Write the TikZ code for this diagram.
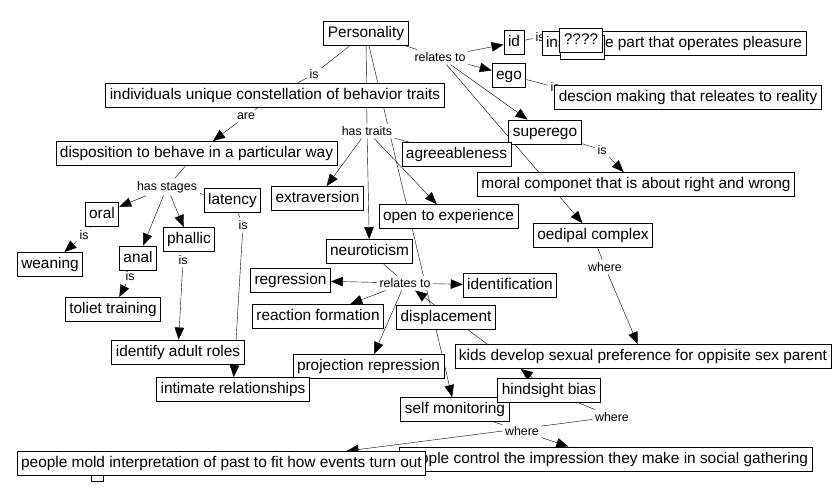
\documentclass[tikz,border=0pt]{standalone}
\usepackage{fontspec}
\setmainfont{Liberation Sans}
\usetikzlibrary{arrows.meta,backgrounds}

\begin{document}
\begin{tikzpicture}[x=1pt,y=-1pt,line width=0.9pt,>={Triangle[length=12pt,width=9.5pt]},
	concept/.style={draw,fill=white,minimum height=24pt,inner xsep=4pt,inner ysep=0pt,text height=11pt,text depth=3pt,font=\fontsize{15.4}{18}\selectfont},
	phrase/.style={fill=white,inner sep=2.5pt,font=\fontsize{12.4}{14}\selectfont}]
	\useasboundingbox (0,0) rectangle (832,501);

	%linking phrases
	\node[phrase] (is1) at (314,74) {is};
	\node[phrase] (are) at (246,116) {are};
	\node[phrase] (hastraits) at (367,131) {has traits};
	\node[phrase] (rel1) at (440,57) {relates to};
	\node[phrase] (isid) at (540,37) {is};
	\node[phrase] (isego) at (555,87) {is};
	\node[phrase] (issup) at (602,150) {is};
	\node[phrase] (where1) at (605,267) {where};
	\node[phrase] (hasstages) at (167,187) {has stages};
	\node[phrase] (isoral) at (84,235) {is};
	\node[phrase] (isanal) at (130,276) {is};
	\node[phrase] (isphal) at (183,260) {is};
	\node[phrase] (islat) at (243,225) {is};
	\node[phrase] (rel2) at (405,283) {relates to};
	\node[phrase] (where2) at (612,417) {where};
	\node[phrase] (where3) at (522,431) {where};

	%top concepts
	\node[concept] (pers) at (366,33) {Personality};
	\node[concept] (id) at (514,42.5) {id};
	\node[concept] (inst) at (674,43) {instinctive part that operates pleasure};
	\node[concept,minimum width=44pt] (qback) at (582.5,47) {};
	\node[concept] (qmark) at (581,40) {????};
	\node[concept] (ego) at (509,75) {ego};
	\node[concept] (desc) at (688,97.5) {descion making that releates to reality};
	\node[concept] (indiv) at (275,95.5) {individuals unique constellation of behavior traits};
	\node[concept] (disp) at (196.5,153.5) {disposition to behave in a particular way};
	\node[concept] (sup) at (545,132) {superego};
	\node[concept] (moral) at (636,184.5) {moral componet that is about right and wrong};
	\node[concept] (oedip) at (593,235.5) {oedipal complex};
	\node[concept] (kids) at (643,356.5) {kids develop sexual preference for oppisite sex parent};

	%traits
	\node[concept] (agree) at (456.5,154.5) {agreeableness};
	\node[concept] (extra) at (317.5,198.5) {extraversion};
	\node[concept] (open) at (448.5,216.5) {open to experience};
	\node[concept] (neuro) at (369.5,251.5) {neuroticism};
	\node[concept] (regr) at (290.5,280.5) {regression};
	\node[concept] (identif) at (510,285.5) {identification};
	\node[concept] (react) at (318,316.5) {reaction formation};
	\node[concept] (displ) at (446,317.5) {displacement};
	\node[concept] (proj) at (368.5,366.5) {projection repression};

	%stages
	\node[concept] (lat) at (232.5,200) {latency};
	\node[concept] (oral) at (102,214) {oral};
	\node[concept] (wean) at (50,264.5) {weaning};
	\node[concept] (anal) at (138,258) {anal};
	\node[concept] (phal) at (189,239.5) {phallic};
	\node[concept] (toilet) at (113,309.5) {toliet training};
	\node[concept] (roles) at (178,352) {identify adult roles};
	\node[concept] (intim) at (233,389.5) {intimate relationships};

	%bottom
	\node[concept] (selfmon) at (455,409.5) {self monitoring};
	\node[concept] (hind) at (549,390) {hindsight bias};
	\node[concept] (control) at (605.5,459) {people control the impression they make in social gathering};
	\node[draw,fill=white,minimum width=12pt,minimum height=10pt,inner sep=0pt] (moldstub) at (97,476) {};
	\node[concept] (mold) at (221.5,463.5) {people mold interpretation of past to fit how events turn out};

	\begin{pgfonlayer}{background}
	%Personality
	\draw (pers) -- (is1) -- (indiv);
	\draw (indiv) -- (are);
	\draw[->] (are) -- (disp);
	\draw (pers) -- (hastraits);
	\draw (pers) -- (rel1);
	\draw[->] (pers) -- (selfmon);

	%relates to
	\draw[->] (rel1) -- (id);
	\draw[->] (rel1) -- (ego);
	\draw[->] (rel1) -- (sup);
	\draw[->] (rel1) -- (oedip);
	\draw (id) -- (isid) -- (inst.center);
	\draw (ego) -- (isego) -- (desc.center);
	\draw (sup) -- (issup);
	\draw[->] (issup) -- (moral);
	\draw (oedip) -- (where1);
	\draw[->] (where1) -- (kids);

	%has traits
	\draw[->] (hastraits) -- (extra);
	\draw[->] (hastraits) -- (open);
	\draw[->] (hastraits) -- (neuro);
	\draw (hastraits) -- (agree.center);
	\draw (neuro) -- (rel2);
	\draw[->] (rel2) -- (regr);
	\draw[->] (rel2) -- (identif);
	\draw[->] (rel2) -- (react);
	\draw[->] (rel2) -- (proj);
	\coordinate (kx) at (intersection of hind.center--rel2.center and kids.south west--kids.south east);
	\draw[->] (hind) -- (kx);
	\draw[->] (kx) -- (rel2);

	%has stages
	\draw (disp) -- (hasstages);
	\draw[->] (hasstages) -- (oral);
	\draw[->] (hasstages) -- (anal);
	\draw[->] (hasstages) -- (phal);
	\draw (hasstages) -- (lat.center);
	\draw (oral) -- (isoral);
	\draw[->] (isoral) -- (wean);
	\draw (anal) -- (isanal);
	\draw[->] (isanal) -- (toilet);
	\draw (phal) -- (isphal);
	\draw[->] (isphal) -- (roles);
	\draw (lat) -- (islat);
	\draw[->] (islat) -- (intim);

	%where
	\draw (hind) -- (where2);
	\draw[->] (where2) -- ([xshift=125pt]mold.north);
	\draw (selfmon) -- (where3);
	\draw[->] (where3) -- (control);
	\end{pgfonlayer}
\end{tikzpicture}
\end{document}
